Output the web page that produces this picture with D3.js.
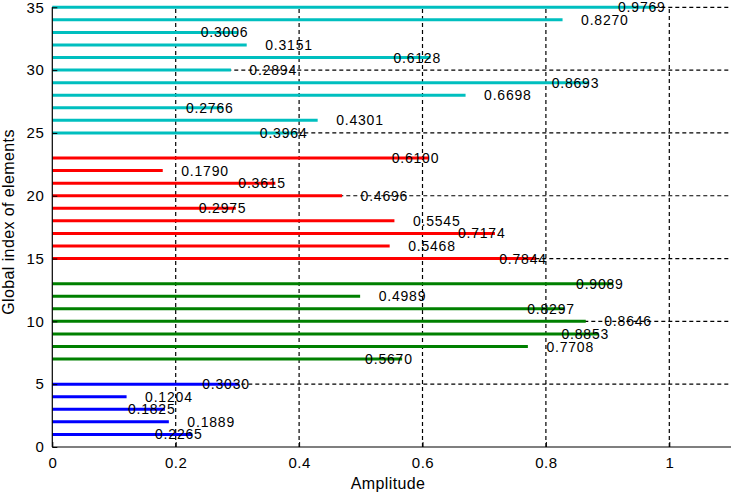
<!DOCTYPE html>
<html>
<head>
<meta charset="utf-8">
<script src="https://cdn.jsdelivr.net/npm/d3@7"></script>
<style>
    body { margin: 0; background: #fff; }
    text { font-family: "Liberation Sans", Arial, Helvetica, sans-serif; }
</style>
</head>
<body>
<div id="chart"></div>
<script>
// amplitude per element, grouped by colour
const blueIdx = [1, 2, 3, 4, 5];
const blueVal = [0.2265, 0.1889, 0.1825, 0.1204, 0.3030];
const greenIdx = [7, 8, 9, 10, 11, 12, 13];
const greenVal = [0.5670, 0.7708, 0.8853, 0.8646, 0.8297, 0.4989, 0.9089];
const redIdx = [15, 16, 17, 18, 19, 20, 21, 22, 23];
const redVal = [0.7844, 0.5468, 0.7174, 0.5545, 0.2975, 0.4696, 0.3615, 0.1790, 0.6100];
const cyanIdx = [25, 26, 27, 28, 29, 30, 31, 32, 33, 34, 35];
const cyanVal = [0.3964, 0.4301, 0.2766, 0.6698, 0.8693, 0.2894, 0.6128, 0.3151, 0.3006, 0.8270, 0.9769];

const xTicks = [0, 0.2, 0.4, 0.6, 0.8, 1];
const yTicks = [0, 5, 10, 15, 20, 25, 30, 35];

const groups = [
    { idx: blueIdx, val: blueVal, color: "#0000ff" },
    { idx: greenIdx, val: greenVal, color: "#008000" },
    { idx: redIdx, val: redVal, color: "#ff0000" },
    { idx: cyanIdx, val: cyanVal, color: "#00bfbf" }
];
const rows = groups.flatMap(g => g.idx.map((k, i) => ({ k: k, v: g.val[i], color: g.color })));

const W = 732, H = 494;
const x = d3.scaleLinear().domain([0, 1.1]).range([52.3, 731]);
const y = d3.scaleLinear().domain([0, 35]).range([447, 7.3]);

const svg = d3.select("#chart").append("svg")
    .attr("width", W)
    .attr("height", H);

// dashed grid
svg.append("g").selectAll("line")
    .data(xTicks.filter(d => d > 0))
    .enter().append("line")
    .attr("x1", d => x(d)).attr("x2", d => x(d))
    .attr("y1", y(0)).attr("y2", y(35))
    .attr("stroke", "#000").attr("stroke-width", 1.2)
    .attr("stroke-dasharray", "4,3");

svg.append("g").selectAll("line")
    .data(yTicks.filter(d => d > 0))
    .enter().append("line")
    .attr("x1", x(0)).attr("x2", x(1.1))
    .attr("y1", d => y(d)).attr("y2", d => y(d))
    .attr("stroke", "#000").attr("stroke-width", 1.2)
    .attr("stroke-dasharray", "4,3");

// amplitude lines
svg.append("g").selectAll("line")
    .data(rows)
    .enter().append("line")
    .attr("x1", x(0))
    .attr("x2", d => x(d.v))
    .attr("y1", d => y(d.k))
    .attr("y2", d => y(d.k))
    .attr("stroke", d => d.color)
    .attr("stroke-width", 3);

// value labels, alternating left / right of the line end
svg.append("g").selectAll("text")
    .data(rows)
    .enter().append("text")
    .attr("x", d => x(d.k % 2 ? d.v - 0.06 : d.v + 0.03))
    .attr("y", d => y(d.k))
    .attr("dy", "0.36em")
    .attr("font-size", 14)
    .attr("letter-spacing", 0.8)
    .attr("fill", "#000")
    .text(d => d.v.toFixed(4));

// axes
const xAxis = svg.append("g")
    .attr("transform", `translate(0,${y(0)})`)
    .call(d3.axisBottom(x).tickValues(xTicks).tickSize(-5).tickPadding(10).tickFormat(d3.format("")));
const yAxis = svg.append("g")
    .attr("transform", `translate(${x(0)},0)`)
    .call(d3.axisLeft(y).tickValues(yTicks).tickSize(-5).tickPadding(8));

[xAxis, yAxis].forEach(a => {
    a.select(".domain").attr("stroke", "#000").attr("stroke-width", 1.2);
    a.selectAll(".tick line").attr("stroke", "#000");
    a.selectAll("text")
        .attr("font-family", "\"Liberation Sans\", Arial, sans-serif")
        .attr("font-size", 15)
        .attr("letter-spacing", 0.5)
        .attr("fill", "#000");
});
yAxis.select(".domain").attr("d", `M0,${y(0)}V${y(35)}`);
xAxis.select(".domain").attr("d", `M${x(0)},0H${x(1.1)}`);

// axis titles
svg.append("text")
    .attr("x", 388)
    .attr("y", 489)
    .attr("text-anchor", "middle")
    .attr("font-size", 16)
    .attr("letter-spacing", 0.4)
    .text("Amplitude");

svg.append("text")
    .attr("transform", "translate(14,222) rotate(-90)")
    .attr("text-anchor", "middle")
    .attr("font-size", 16)
    .attr("letter-spacing", 0.4)
    .text("Global index of elements");
</script>
</body>
</html>
